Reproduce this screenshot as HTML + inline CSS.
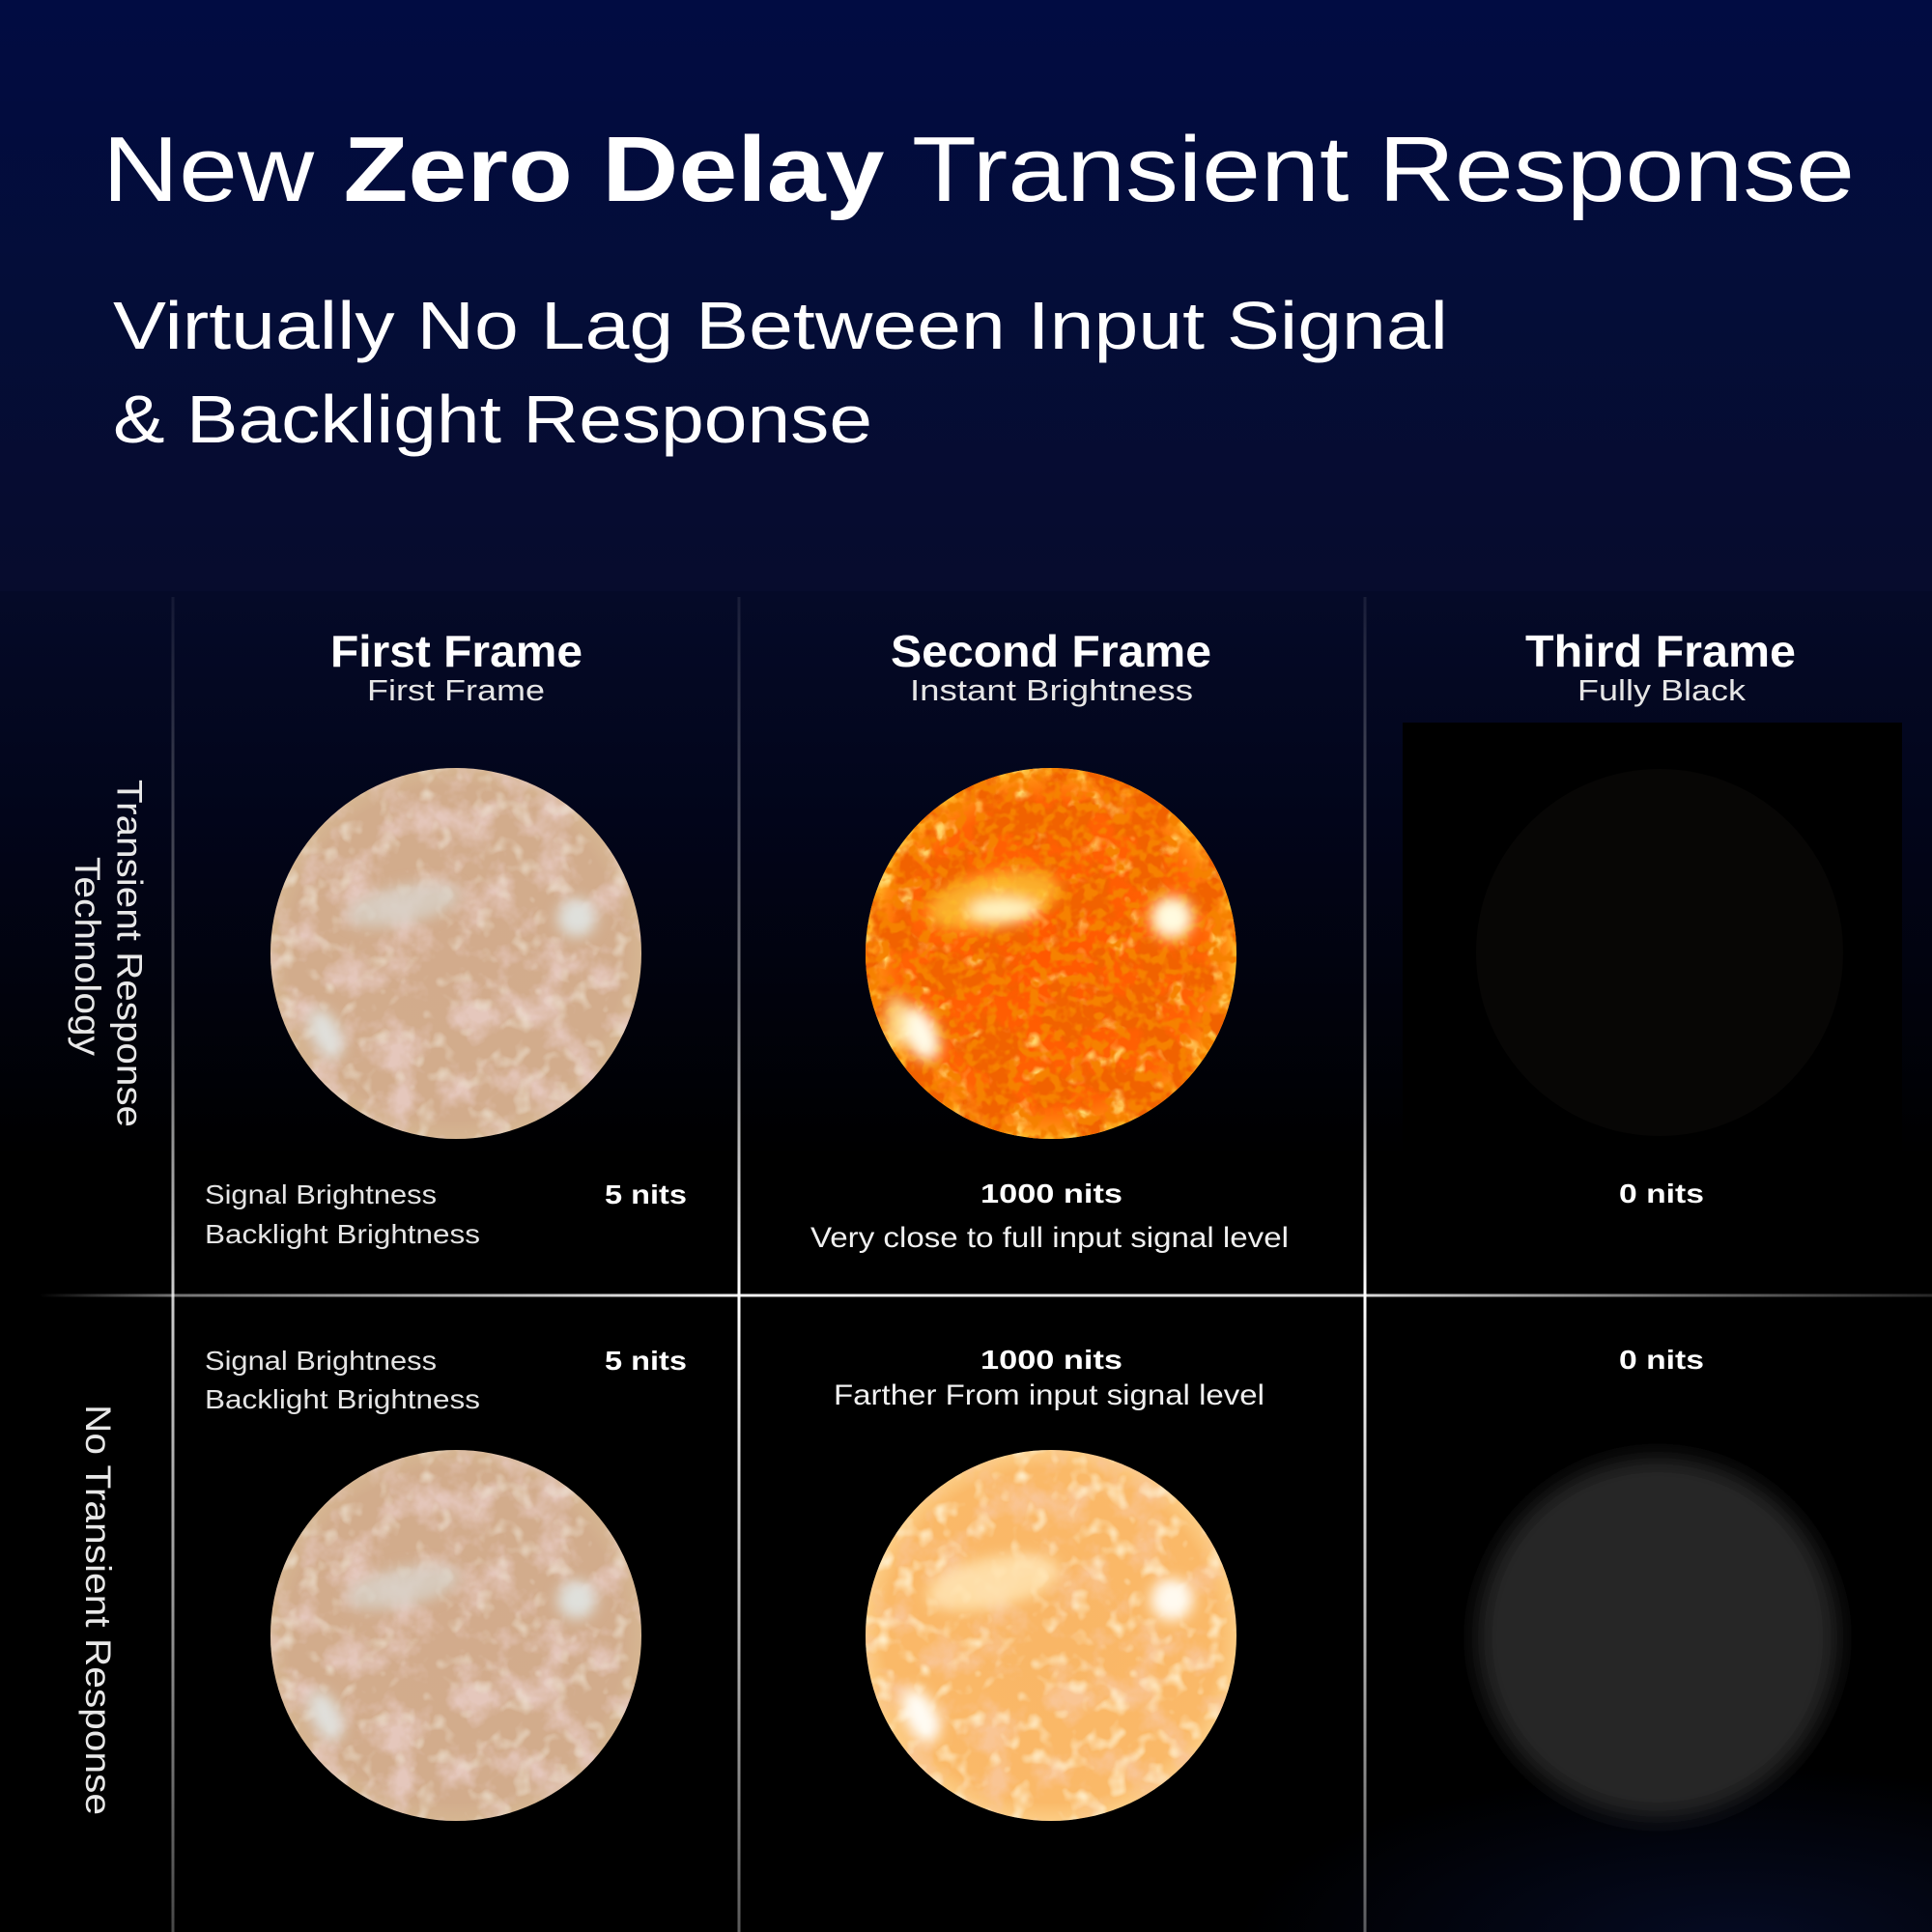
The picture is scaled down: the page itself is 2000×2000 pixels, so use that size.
<!DOCTYPE html>
<html><head><meta charset="utf-8">
<style>
html,body{margin:0;padding:0;background:#000;width:2000px;height:2000px;overflow:hidden}
svg{display:block}
</style></head>
<body>
<svg width="2000" height="2000" viewBox="0 0 2000 2000" xmlns="http://www.w3.org/2000/svg" xmlns:xlink="http://www.w3.org/1999/xlink" font-family="'Liberation Sans', sans-serif">
<defs>
  <linearGradient id="bgTop" x1="0" y1="0" x2="0" y2="612" gradientUnits="userSpaceOnUse">
    <stop offset="0" stop-color="#010c42"/>
    <stop offset="0.5" stop-color="#040d38"/>
    <stop offset="1" stop-color="#070c2d"/>
  </linearGradient>
  <linearGradient id="bgGrid" x1="0" y1="612" x2="0" y2="1200" gradientUnits="userSpaceOnUse">
    <stop offset="0" stop-color="#050a28"/>
    <stop offset="0.4" stop-color="#02051a"/>
    <stop offset="1" stop-color="#000000"/>
  </linearGradient>
  <radialGradient id="bgBR" cx="1800" cy="2010" r="520" gradientUnits="userSpaceOnUse" gradientTransform="translate(1800 2010) scale(1 0.35) translate(-1800 -2010)">
    <stop offset="0" stop-color="#0a1440" stop-opacity="0.55"/>
    <stop offset="1" stop-color="#0a1440" stop-opacity="0"/>
  </radialGradient>
  <linearGradient id="vline" x1="0" y1="0" x2="0" y2="1" >
    <stop offset="0" stop-color="#fff" stop-opacity="0.08"/>
    <stop offset="0.3" stop-color="#fff" stop-opacity="0.45"/>
    <stop offset="0.52" stop-color="#fff" stop-opacity="1"/>
    <stop offset="0.75" stop-color="#fff" stop-opacity="0.75"/>
    <stop offset="1" stop-color="#fff" stop-opacity="0.35"/>
  </linearGradient>
  <linearGradient id="hline" x1="0" y1="0" x2="1" y2="0">
    <stop offset="0" stop-color="#fff" stop-opacity="0"/>
    <stop offset="0.07" stop-color="#fff" stop-opacity="0.45"/>
    <stop offset="0.37" stop-color="#fff" stop-opacity="0.95"/>
    <stop offset="0.70" stop-color="#fff" stop-opacity="0.85"/>
    <stop offset="0.86" stop-color="#fff" stop-opacity="0.45"/>
    <stop offset="1" stop-color="#fff" stop-opacity="0.15"/>
  </linearGradient>

  <radialGradient id="gVivid" cx="0.5" cy="0.5" r="0.5">
    <stop offset="0" stop-color="#ff5800"/>
    <stop offset="0.82" stop-color="#ff6204"/>
    <stop offset="0.94" stop-color="#ff8a10"/>
    <stop offset="1" stop-color="#ffb828"/>
  </radialGradient>
  <radialGradient id="gPale" cx="0.5" cy="0.5" r="0.5">
    <stop offset="0" stop-color="#d2ab8c"/>
    <stop offset="0.9" stop-color="#d2ac8c"/>
    <stop offset="1" stop-color="#d6b692"/>
  </radialGradient>
  <radialGradient id="gOrange" cx="0.5" cy="0.5" r="0.5">
    <stop offset="0" stop-color="#f9b666"/>
    <stop offset="0.9" stop-color="#fab968"/>
    <stop offset="1" stop-color="#fccc84"/>
  </radialGradient>

  <filter id="fRedVivid" x="0" y="0" width="1" height="1">
    <feTurbulence type="fractalNoise" baseFrequency="0.025" numOctaves="4" seed="2" result="n"/>
    <feColorMatrix in="n" type="matrix" values="0 0 0 0 0.88  0 0 0 0 0.12  0 0 0 0 0  7 0 0 0 -3.1" result="c"/>
    <feComposite in="c" in2="SourceGraphic" operator="in"/>
  </filter>
  <filter id="fGrainVivid" x="0" y="0" width="1" height="1">
    <feTurbulence type="fractalNoise" baseFrequency="0.09" numOctaves="2" seed="5" result="n"/>
    <feColorMatrix in="n" type="matrix" values="0 0 0 0 0.92  0 0 0 0 0.22  0 0 0 0 0  5 0 0 0 -2.3" result="c"/>
    <feComposite in="c" in2="SourceGraphic" operator="in"/>
  </filter>
  <filter id="fYelVivid" x="0" y="0" width="1" height="1">
    <feTurbulence type="fractalNoise" baseFrequency="0.05" numOctaves="2" seed="9" result="n"/>
    <feColorMatrix in="n" type="matrix" values="0 0 0 0 1  0 0 0 0 0.68  0 0 0 0 0.15  4 0 0 0 -2.2" result="c"/>
    <feComposite in="c" in2="SourceGraphic" operator="in"/>
  </filter>
  <filter id="fRedPale" x="0" y="0" width="1" height="1">
    <feTurbulence type="fractalNoise" baseFrequency="0.025" numOctaves="4" seed="2" result="n"/>
    <feColorMatrix in="n" type="matrix" values="0 0 0 0 0.78  0 0 0 0 0.57  0 0 0 0 0.5  3 0 0 0 -1.35" result="c"/>
    <feComposite in="c" in2="SourceGraphic" operator="in"/>
  </filter>
  <filter id="fLightPale" x="0" y="0" width="1" height="1">
    <feTurbulence type="fractalNoise" baseFrequency="0.05" numOctaves="2" seed="9" result="n"/>
    <feColorMatrix in="n" type="matrix" values="0 0 0 0 0.85  0 0 0 0 0.76  0 0 0 0 0.64  2.5 0 0 0 -1.4" result="c"/>
    <feComposite in="c" in2="SourceGraphic" operator="in"/>
  </filter>
  <filter id="fRedOrange" x="0" y="0" width="1" height="1">
    <feTurbulence type="fractalNoise" baseFrequency="0.025" numOctaves="4" seed="2" result="n"/>
    <feColorMatrix in="n" type="matrix" values="0 0 0 0 0.95  0 0 0 0 0.56  0 0 0 0 0.3  3 0 0 0 -1.4" result="c"/>
    <feComposite in="c" in2="SourceGraphic" operator="in"/>
  </filter>
  <filter id="fLightOrange" x="0" y="0" width="1" height="1">
    <feTurbulence type="fractalNoise" baseFrequency="0.05" numOctaves="2" seed="9" result="n"/>
    <feColorMatrix in="n" type="matrix" values="0 0 0 0 1  0 0 0 0 0.86  0 0 0 0 0.6  3 0 0 0 -1.6" result="c"/>
    <feComposite in="c" in2="SourceGraphic" operator="in"/>
  </filter>
  <filter id="blur8" x="-50%" y="-50%" width="200%" height="200%">
    <feGaussianBlur stdDeviation="7"/>
  </filter>
  <filter id="blurGlow" x="-30%" y="-30%" width="160%" height="160%">
    <feGaussianBlur stdDeviation="12"/>
  </filter>

  <clipPath id="sunClip"><circle cx="0" cy="0" r="192"/></clipPath>

  <g id="sunVivid">
    <circle cx="0" cy="0" r="192" fill="url(#gVivid)"/>
    <g clip-path="url(#sunClip)">
      <rect x="-192" y="-192" width="384" height="384" fill="#fff" filter="url(#fYelVivid)"/>
      <rect x="-192" y="-192" width="384" height="384" fill="#fff" filter="url(#fRedVivid)"/>
      <rect x="-192" y="-192" width="384" height="384" fill="#fff" filter="url(#fGrainVivid)"/>
      <g filter="url(#blur8)">
        <ellipse cx="-60" cy="-55" rx="70" ry="28" fill="#ffc83a" opacity="0.75" transform="rotate(-12 -60 -55)"/>
        <ellipse cx="-50" cy="-45" rx="36" ry="13" fill="#fff6c8" opacity="0.95"/>
        <ellipse cx="125" cy="-37" rx="22" ry="22" fill="#fffbe0"/>
        <ellipse cx="-135" cy="83" rx="17" ry="30" fill="#fffbe8" transform="rotate(-25 -135 83)"/>
        <ellipse cx="-160" cy="70" rx="12" ry="28" fill="#ffe9a0" opacity="0.8"/>
      </g>
    </g>
  </g>
  <g id="sunPale">
    <circle cx="0" cy="0" r="192" fill="url(#gPale)"/>
    <g clip-path="url(#sunClip)">
      <rect x="-192" y="-192" width="384" height="384" fill="#fff" filter="url(#fRedPale)"/>
      <rect x="-192" y="-192" width="384" height="384" fill="#fff" filter="url(#fLightPale)"/>
      <g filter="url(#blur8)">
        <ellipse cx="-55" cy="-50" rx="60" ry="20" fill="#d8d2c8" opacity="0.8" transform="rotate(-12 -55 -50)"/>
        <ellipse cx="125" cy="-37" rx="20" ry="20" fill="#dfe0dc"/>
        <ellipse cx="-135" cy="83" rx="15" ry="28" fill="#e0e0dc" transform="rotate(-25 -135 83)"/>
      </g>
    </g>
  </g>
  <g id="sunOrange">
    <circle cx="0" cy="0" r="192" fill="url(#gOrange)"/>
    <g clip-path="url(#sunClip)">
      <rect x="-192" y="-192" width="384" height="384" fill="#fff" filter="url(#fRedOrange)"/>
      <rect x="-192" y="-192" width="384" height="384" fill="#fff" filter="url(#fLightOrange)"/>
      <g filter="url(#blur8)">
        <ellipse cx="-60" cy="-55" rx="70" ry="26" fill="#ffe4b0" opacity="0.85" transform="rotate(-12 -60 -55)"/>
        <ellipse cx="125" cy="-37" rx="22" ry="22" fill="#fffaf0"/>
        <ellipse cx="-135" cy="83" rx="17" ry="30" fill="#fffcf4" transform="rotate(-25 -135 83)"/>
      </g>
    </g>
  </g>
</defs>

<rect x="0" y="0" width="2000" height="612" fill="url(#bgTop)"/>
<rect x="0" y="612" width="2000" height="1388" fill="url(#bgGrid)"/>
<rect x="1200" y="1800" width="800" height="200" fill="url(#bgBR)"/>

<rect x="1452" y="748" width="517" height="600" fill="#000"/>

<text x="106" y="208" font-size="96" fill="#ffffff" textLength="1814" lengthAdjust="spacingAndGlyphs">New <tspan font-weight="bold">Zero Delay</tspan> Transient Response</text>
<text x="117" y="361" font-size="70" fill="#ffffff" textLength="1382" lengthAdjust="spacingAndGlyphs">Virtually No Lag Between Input Signal</text>
<text x="117" y="458" font-size="70" fill="#ffffff" textLength="786" lengthAdjust="spacingAndGlyphs">&amp; Backlight Response</text>

<rect x="177.5" y="618" width="3" height="1382" fill="url(#vline)" opacity="0.8"/>
<rect x="763.5" y="618" width="3" height="1382" fill="url(#vline)"/>
<rect x="1411.5" y="618" width="3" height="1382" fill="url(#vline)"/>
<rect x="40" y="1339.5" width="1960" height="3" fill="url(#hline)"/>

<text x="342" y="690" font-size="46" font-weight="bold" fill="#fff" textLength="261" lengthAdjust="spacingAndGlyphs">First Frame</text>
<text x="380" y="725" font-size="31" fill="#e6e6e6" textLength="184" lengthAdjust="spacingAndGlyphs">First Frame</text>
<text x="922" y="690" font-size="46" font-weight="bold" fill="#fff" textLength="332" lengthAdjust="spacingAndGlyphs">Second Frame</text>
<text x="942" y="725" font-size="31" fill="#e6e6e6" textLength="293" lengthAdjust="spacingAndGlyphs">Instant Brightness</text>
<text x="1579" y="690" font-size="46" font-weight="bold" fill="#fff" textLength="280" lengthAdjust="spacingAndGlyphs">Third Frame</text>
<text x="1633" y="725" font-size="31" fill="#e6e6e6" textLength="174" lengthAdjust="spacingAndGlyphs">Fully Black</text>

<text transform="translate(121.5,807) rotate(90)" font-size="37" fill="#e8e8e8" textLength="360" lengthAdjust="spacingAndGlyphs">Transient Response</text>
<text transform="translate(78,887) rotate(90)" font-size="37" fill="#e8e8e8" textLength="206" lengthAdjust="spacingAndGlyphs">Technology</text>
<text transform="translate(89,1454) rotate(90)" font-size="37" fill="#e8e8e8" textLength="425" lengthAdjust="spacingAndGlyphs">No Transient Response</text>

<use xlink:href="#sunPale" href="#sunPale" transform="translate(472,987)"/>
<use xlink:href="#sunVivid" href="#sunVivid" transform="translate(1088,987)"/>
<circle cx="1718" cy="986" r="190" fill="#070605"/>

<use xlink:href="#sunPale" href="#sunPale" transform="translate(472,1693)"/>
<use xlink:href="#sunOrange" href="#sunOrange" transform="translate(1088,1693)"/>
<circle cx="1716" cy="1695" r="186" fill="#262626" filter="url(#blurGlow)"/>

<text x="212" y="1246" font-size="28" fill="#e4e4e4" textLength="240" lengthAdjust="spacingAndGlyphs">Signal Brightness</text>
<text x="212" y="1287" font-size="28" fill="#e4e4e4" textLength="285" lengthAdjust="spacingAndGlyphs">Backlight Brightness</text>
<text x="626" y="1246" font-size="28" font-weight="bold" fill="#fff" textLength="85" lengthAdjust="spacingAndGlyphs">5 nits</text>
<text x="1015" y="1245" font-size="28" font-weight="bold" fill="#fff" textLength="147" lengthAdjust="spacingAndGlyphs">1000 nits</text>
<text x="839" y="1291" font-size="30" fill="#f0f0f0" textLength="495" lengthAdjust="spacingAndGlyphs">Very close to full input signal level</text>
<text x="1676" y="1245" font-size="28" font-weight="bold" fill="#fff" textLength="88" lengthAdjust="spacingAndGlyphs">0 nits</text>

<text x="212" y="1418" font-size="28" fill="#e4e4e4" textLength="240" lengthAdjust="spacingAndGlyphs">Signal Brightness</text>
<text x="212" y="1458" font-size="28" fill="#e4e4e4" textLength="285" lengthAdjust="spacingAndGlyphs">Backlight Brightness</text>
<text x="626" y="1418" font-size="28" font-weight="bold" fill="#fff" textLength="85" lengthAdjust="spacingAndGlyphs">5 nits</text>
<text x="1015" y="1417" font-size="28" font-weight="bold" fill="#fff" textLength="147" lengthAdjust="spacingAndGlyphs">1000 nits</text>
<text x="863" y="1454" font-size="30" fill="#f0f0f0" textLength="446" lengthAdjust="spacingAndGlyphs">Farther From input signal level</text>
<text x="1676" y="1417" font-size="28" font-weight="bold" fill="#fff" textLength="88" lengthAdjust="spacingAndGlyphs">0 nits</text>
</svg>
</body></html>
